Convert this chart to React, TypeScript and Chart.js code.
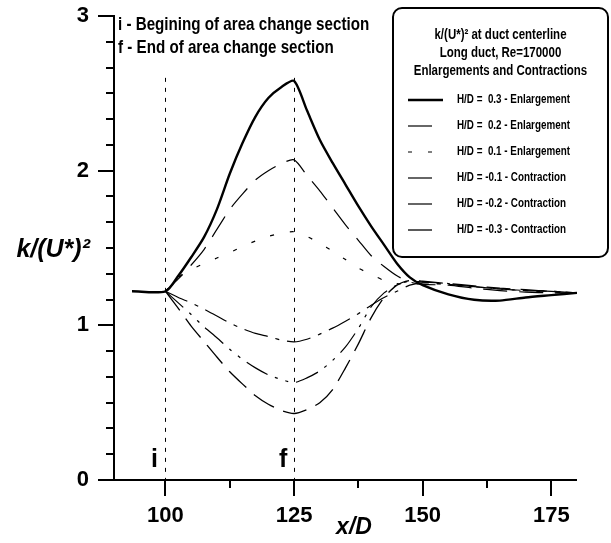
import React, { useEffect, useRef } from "react";
import { Chart, registerables } from "chart.js";
Chart.register(...registerables);

// ---------- data ----------
const xValues = [
  100, 102.5, 105, 107.5, 110, 112.5, 115, 117.5, 120, 122.5, 125,
  127.5, 130, 132.5, 135, 137.5, 140, 142.5, 145, 147.5, 150,
  155, 160, 165, 170, 175, 180,
];
const upstreamX = [93.5];
const upstreamY = [1.22];

const enl03 = [
  1.22, 1.32, 1.44, 1.57, 1.75, 1.98, 2.18, 2.35, 2.47, 2.54, 2.58,
  2.39, 2.2, 2.05, 1.91, 1.77, 1.64, 1.52, 1.4, 1.31, 1.26,
  1.2, 1.165, 1.16, 1.18, 1.195, 1.21,
];
const enl02 = [
  1.22, 1.3, 1.39, 1.49, 1.62, 1.75, 1.85, 1.94, 2.0, 2.045, 2.07,
  1.97, 1.87, 1.76, 1.65, 1.55, 1.45, 1.38, 1.32, 1.28, 1.265,
  1.26, 1.24, 1.225, 1.215, 1.21, 1.21,
];
const enl01 = [
  1.22, 1.31, 1.36, 1.4, 1.435, 1.47, 1.51, 1.545, 1.575, 1.595, 1.605,
  1.575, 1.53, 1.48, 1.425, 1.37, 1.33, 1.29, 1.27, 1.265, 1.27,
  1.265, 1.25, 1.235, 1.225, 1.215, 1.21,
];
const con01 = [
  1.22, 1.18, 1.145, 1.105, 1.06, 1.015, 0.978, 0.948, 0.928, 0.905, 0.893,
  0.91, 0.943, 0.982, 1.027, 1.075, 1.13, 1.18, 1.22, 1.26, 1.275,
  1.265, 1.25, 1.235, 1.225, 1.22, 1.21,
];
const con02 = [
  1.22, 1.145, 1.07, 0.99, 0.92, 0.845, 0.78, 0.725, 0.68, 0.65, 0.63,
  0.66, 0.705, 0.773, 0.86, 0.98, 1.12, 1.21, 1.26, 1.285, 1.28,
  1.27, 1.25, 1.235, 1.225, 1.22, 1.21,
];
const con03 = [
  1.22, 1.11, 0.995, 0.895, 0.795, 0.7, 0.62, 0.545, 0.49, 0.45, 0.43,
  0.455, 0.5, 0.585, 0.725, 0.88, 1.05, 1.18, 1.26, 1.29, 1.285,
  1.27, 1.255, 1.24, 1.23, 1.22, 1.21,
];

const seriesLabels = [
  "H/D =  0.3 - Enlargement",
  "H/D =  0.2 - Enlargement",
  "H/D =  0.1 - Enlargement",
  "H/D = -0.1 - Contraction",
  "H/D = -0.2 - Contraction",
  "H/D = -0.3 - Contraction",
];
const legendTitle = [
  "k/(U*)\u00b2 at duct centerline",
  "Long duct, Re=170000",
  "Enlargements and Contractions",
];
const notes = [
  "i - Begining of area change section",
  "f - End of area change section",
];
const markerX = [100, 125];
const markerText = ["i", "f"];
const markerTop = 2.6;

const xMajorTicks = [100, 125, 150, 175];
const xMinorTicks = [112.5, 137.5, 162.5];
const yMajorTicks = [0, 1, 2, 3];
const yMinorTicks = [
  1 / 6, 2 / 6, 3 / 6, 4 / 6, 5 / 6,
  7 / 6, 8 / 6, 9 / 6, 10 / 6, 11 / 6,
  13 / 6, 14 / 6, 15 / 6, 16 / 6, 17 / 6,
];
const xTitle = "x/D";
const yTitle = "k/(U*)\u00b2";

// ---------- styles ----------
const FONT = '"Liberation Sans", Arial, sans-serif';
const NARROW = 0.82;

const toPts = (xs: number[], ys: number[]) => xs.map((x, i) => ({ x, y: ys[i] }));

const seriesStyles = [
  { width: 2.4, dash: [] as number[] },
  { width: 1.2, dash: [24, 12] },
  { width: 1.2, dash: [4, 16] },
  { width: 1.2, dash: [24, 8, 4, 8] },
  { width: 1.2, dash: [24, 8, 3, 8, 3, 8] },
  { width: 1.3, dash: [24, 10] },
];

function narrowText(ctx: CanvasRenderingContext2D, text: string, x: number, y: number, sx: number) {
  ctx.save();
  ctx.translate(x, y);
  ctx.scale(sx, 1);
  ctx.fillText(text, 0, 0);
  ctx.restore();
}

const overlayPlugin = {
  id: "overlay",
  beforeDatasetsDraw(chart: any) {
    const { ctx } = chart;
    const x = chart.scales.x;
    const y = chart.scales.y;
    ctx.save();
    ctx.strokeStyle = "#000";
    ctx.lineWidth = 1;
    ctx.setLineDash([4, 6]);
    markerX.forEach((mx) => {
      const px = Math.round(x.getPixelForValue(mx)) + 0.5;
      ctx.beginPath();
      ctx.moveTo(px, y.getPixelForValue(markerTop));
      ctx.lineTo(px, y.getPixelForValue(0));
      ctx.stroke();
    });
    ctx.restore();
  },
  afterDraw(chart: any) {
    const { ctx } = chart;
    const x = chart.scales.x;
    const y = chart.scales.y;
    const area = chart.chartArea;
    ctx.save();
    ctx.setLineDash([]);
    ctx.strokeStyle = "#000";
    ctx.fillStyle = "#000";
    ctx.lineWidth = 2;
    ctx.lineCap = "butt";

    // axes
    const ax = area.left;
    const ay = area.bottom;
    ctx.beginPath();
    ctx.moveTo(ax, area.top);
    ctx.lineTo(ax, ay);
    ctx.moveTo(ax, ay);
    ctx.lineTo(area.right, ay);
    ctx.stroke();

    // y ticks
    yMajorTicks.forEach((v) => {
      const py = Math.round(y.getPixelForValue(v));
      ctx.beginPath();
      ctx.moveTo(ax - 16, py);
      ctx.lineTo(ax + 1, py);
      ctx.stroke();
    });
    yMinorTicks.forEach((v) => {
      const py = Math.round(y.getPixelForValue(v));
      ctx.beginPath();
      ctx.moveTo(ax - 8, py);
      ctx.lineTo(ax, py);
      ctx.stroke();
    });
    // x ticks
    xMajorTicks.forEach((v) => {
      const px = Math.round(x.getPixelForValue(v));
      ctx.beginPath();
      ctx.moveTo(px, ay);
      ctx.lineTo(px, ay + 16);
      ctx.stroke();
    });
    xMinorTicks.forEach((v) => {
      const px = Math.round(x.getPixelForValue(v));
      ctx.beginPath();
      ctx.moveTo(px, ay);
      ctx.lineTo(px, ay + 8);
      ctx.stroke();
    });

    // tick labels
    ctx.font = `bold 22px ${FONT}`;
    ctx.textAlign = "right";
    ctx.textBaseline = "middle";
    yMajorTicks.forEach((v) => {
      ctx.fillText(String(v), ax - 25, y.getPixelForValue(v));
    });
    ctx.textAlign = "center";
    xMajorTicks.forEach((v) => {
      ctx.fillText(String(v), x.getPixelForValue(v), ay + 36);
    });

    // axis titles
    ctx.font = `italic bold 23px ${FONT}`;
    ctx.textAlign = "center";
    ctx.fillText(xTitle, 354, 528);
    ctx.font = `italic bold 25px ${FONT}`;
    ctx.textAlign = "right";
    ctx.fillText(yTitle, 90, 250);

    // i / f labels
    ctx.font = `bold 25px ${FONT}`;
    ctx.textAlign = "center";
    ctx.textBaseline = "alphabetic";
    markerX.forEach((mx, i) => {
      ctx.fillText(markerText[i], x.getPixelForValue(mx) - 11, 467);
    });

    // notes
    ctx.font = `bold 18.5px ${FONT}`;
    ctx.textAlign = "left";
    ctx.textBaseline = "middle";
    notes.forEach((t, i) => narrowText(ctx, t, ax + 4, 25 + i * 23, NARROW));

    // legend box
    const bx = 393, by = 8, bw = 215, bh = 249;
    ctx.beginPath();
    ctx.roundRect(bx, by, bw, bh, 9);
    ctx.fillStyle = "#fff";
    ctx.fill();
    ctx.lineWidth = 2;
    ctx.stroke();
    ctx.fillStyle = "#000";
    ctx.font = `bold 14px ${FONT}`;
    ctx.textAlign = "center";
    legendTitle.forEach((t, i) => narrowText(ctx, t, bx + bw / 2, 35 + i * 18, NARROW));
    ctx.font = `bold 12px ${FONT}`;
    ctx.textAlign = "left";
    chart.data.datasets.forEach((ds: any, i: number) => {
      const ly = 100 + i * 26;
      ctx.beginPath();
      ctx.lineWidth = ds.borderWidth;
      ctx.setLineDash(ds.borderDash || []);
      ctx.moveTo(408, ly);
      ctx.lineTo(i === 0 ? 443 : 432, ly);
      ctx.stroke();
      ctx.setLineDash([]);
      narrowText(ctx, seriesLabels[i], 457, ly, NARROW);
    });
    ctx.restore();
  },
};

export default function App() {
  const ref = useRef<HTMLCanvasElement>(null);
  useEffect(() => {
    if (!ref.current) return;
    const all = [enl03, enl02, enl01, con01, con02, con03];
    const datasets = all.map((arr, i) => ({
      label: seriesLabels[i],
      data: i === 0 ? toPts([...upstreamX, ...xValues], [...upstreamY, ...arr]) : toPts(xValues, arr),
      borderColor: "#000",
      borderWidth: seriesStyles[i].width,
      borderDash: seriesStyles[i].dash,
      pointRadius: 0,
      fill: false,
      tension: 0.25,
    }));
    const chart = new Chart(ref.current, {
      type: "line",
      data: { datasets },
      options: {
        animation: false,
        responsive: false,
        layout: { padding: { left: 0, top: 16, right: 34, bottom: 0 } },
        plugins: { legend: { display: false }, tooltip: { enabled: false } },
        scales: {
          x: {
            type: "linear",
            min: 90,
            max: 180,
            ticks: { display: false },
            grid: { display: false, drawTicks: false },
            border: { display: false },
            afterFit: (s: any) => { s.height = 63; },
          },
          y: {
            type: "linear",
            min: 0,
            max: 3,
            ticks: { display: false },
            grid: { display: false, drawTicks: false },
            border: { display: false },
            afterFit: (s: any) => { s.width = 114; },
          },
        },
      },
      plugins: [overlayPlugin],
    });
    return () => chart.destroy();
  }, []);
  return (
    <div style={{ position: "fixed", left: 0, top: 0, width: 611, height: 543, background: "#fff" }}>
      <canvas ref={ref} width={611} height={543} style={{ display: "block" }} />
    </div>
  );
}
